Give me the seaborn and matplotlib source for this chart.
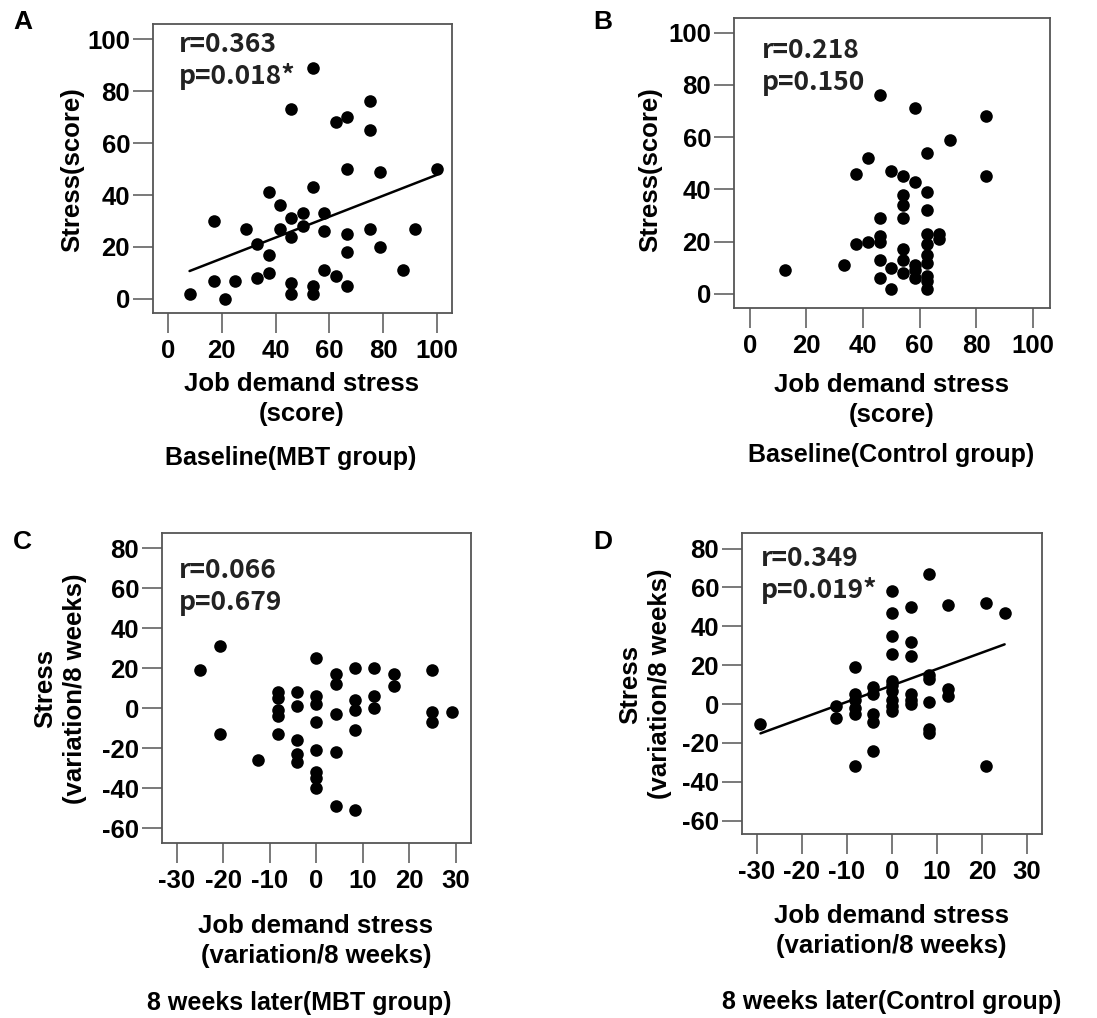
import numpy as np
import pandas as pd
import matplotlib
matplotlib.use("Agg")
import matplotlib.pyplot as plt
import seaborn as sns

# ==============================
# DATA
# ==============================

# A: Baseline, MBT group
a_job = [8, 17, 17, 21, 25, 29, 33, 33, 37.5, 37.5, 37.5, 41.7, 41.7,
         45.8, 45.8, 45.8, 45.8, 45.8, 50, 50, 54, 54, 54, 54, 58, 58, 58,
         62.5, 62.5, 66.7, 66.7, 66.7, 66.7, 66.7, 75, 75, 75, 79, 79,
         87.5, 91.7, 100]
a_stress = [2, 30, 7, 0, 7, 27, 21, 8, 41, 17, 10, 36, 27,
            73, 31, 24, 6, 2, 33, 28, 89, 43, 5, 2, 33, 26, 11,
            68, 9, 70, 50, 25, 18, 5, 76, 65, 27, 49, 20,
            11, 27, 50]

# B: Baseline, Control group
b_job = [12.5, 33.3, 37.5, 37.5, 41.7, 41.7,
         45.8, 45.8, 45.8, 45.8, 45.8, 45.8, 50, 50, 50,
         54.2, 54.2, 54.2, 54.2, 54.2, 54.2, 54.2,
         58.3, 58.3, 58.3, 58.3, 58.3,
         62.5, 62.5, 62.5, 62.5, 62.5, 62.5, 62.5, 62.5, 62.5, 62.5,
         66.7, 66.7, 70.8, 83.3, 83.3]
b_stress = [9, 11, 46, 19, 52, 20,
            76, 29, 22, 20, 13, 6, 47, 10, 2,
            45, 38, 34, 29, 17, 13, 8,
            71, 43, 11, 9, 6,
            54, 39, 32, 23, 19, 15, 12, 7, 5, 2,
            23, 21, 59, 68, 45]

# C: 8 weeks later, MBT group
c_job = [-25, -20.8, -20.8, -12.5, -8.3, -8.3, -8.3, -8.3, -8.3,
         -4.2, -4.2, -4.2, -4.2, -4.2, 0, 0, 0, 0, 0, 0, 0, 0,
         4.2, 4.2, 4.2, 4.2, 4.2, 8.3, 8.3, 8.3, 8.3, 8.3,
         12.5, 12.5, 12.5, 16.7, 16.7, 25, 25, 25, 29.2]
c_stress = [19, 31, -13, -26, 8, 5, -1, -4, -13,
            8, 1, -16, -23, -27, 25, 6, 2, -7, -21, -32, -35, -40,
            17, 12, -3, -22, -49, 20, 4, -1, -11, -51,
            20, 6, 0, 17, 11, 19, -2, -7, -2]

# D: 8 weeks later, Control group
d_job = [-29.2, -12.5, -12.5, -8.3, -8.3, -8.3, -8.3, -8.3, -8.3,
         -4.2, -4.2, -4.2, -4.2, -4.2, 0, 0, 0, 0, 0, 0, 0, 0, 0, 0,
         4.2, 4.2, 4.2, 4.2, 4.2, 4.2, 8.3, 8.3, 8.3, 8.3, 8.3, 8.3,
         12.5, 12.5, 12.5, 20.8, 20.8, 25]
d_stress = [-10, -1, -7, 19, 5, 2, -2, -5, -32,
            9, 5, -5, -9, -24, 58, 47, 35, 26, 12, 10, 7, 2, -1, -3.5,
            50, 32, 25, 5, 2, 0, 67, 15, 13, 1, -13, -15,
            51, 8, 4, 52, -32, 47]

stats = {
    "A": ("r=0.363", "p=0.018*"),
    "B": ("r=0.218", "p=0.150"),
    "C": ("r=0.066", "p=0.679"),
    "D": ("r=0.349", "p=0.019*"),
}

score_ticks = [0, 20, 40, 60, 80, 100]
var_xticks = [-30, -20, -10, 0, 10, 20, 30]
var_yticks = [-60, -40, -20, 0, 20, 40, 60, 80]

# ==============================
# STYLE
# ==============================
sns.set_theme(style="white")
plt.rcParams["font.family"] = ["Liberation Sans", "DejaVu Sans"]
plt.rcParams["font.weight"] = "bold"
plt.rcParams["text.color"] = "black"
plt.rcParams["axes.unicode_minus"] = False

W, H = 1097, 1018
fig = plt.figure(figsize=(W / 100, H / 100), dpi=100)


def px_axes(l, r, t, b):
    """Axes from pixel box (left, right, top, bottom)."""
    return fig.add_axes([l / W, 1 - b / H, (r - l) / W, (b - t) / H])


def px(x, y):
    return x / W, 1 - y / H


def style_axes(ax, xlim, ylim, xticks, yticks):
    ax.set_xlim(*xlim)
    ax.set_ylim(*ylim)
    ax.set_xticks(xticks)
    ax.set_yticks(yticks)
    for sp in ax.spines.values():
        sp.set_color("#555555")
        sp.set_linewidth(1.3)
    ax.tick_params(axis="both", direction="out", length=14.5, width=1.1,
                   color="#555555", labelsize=18.5, labelcolor="black",
                   bottom=True, left=True)
    ax.tick_params(axis="x", pad=4)
    ax.tick_params(axis="y", pad=2)
    for lab in ax.get_xticklabels() + ax.get_yticklabels():
        lab.set_fontweight("bold")


def draw_panel(letter, job, stress, box, xlim, ylim, xticks, yticks,
               fit, xlabel, ylabel, ylab_xy, xlab_xy, sub, sub_xy,
               stat_xy, letter_xy):
    ax = px_axes(*box)
    df = pd.DataFrame({"job": job, "stress": stress})
    sns.scatterplot(data=df, x="job", y="stress", ax=ax, color="black",
                    s=82, edgecolor="black", linewidth=0, zorder=3)
    if fit:
        sns.regplot(data=df, x="job", y="stress", ax=ax, scatter=False,
                    ci=None, color="black", line_kws={"linewidth": 1.8})
    style_axes(ax, xlim, ylim, xticks, yticks)
    ax.set_xlabel("")
    ax.set_ylabel("")

    # axis titles placed at the reference pixel positions
    fig.text(*px(*xlab_xy), xlabel, ha="center", va="center", fontsize=18.5,
             fontweight="bold", linespacing=1.3)
    fig.text(*px(*ylab_xy), ylabel, ha="center", va="center", fontsize=18.5,
             fontweight="bold", rotation=90, linespacing=1.3)
    fig.text(*px(*sub_xy), sub, ha="center", va="center", fontsize=18,
             fontweight="bold")

    r_txt, p_txt = stats[letter]
    sx, sy = stat_xy
    for i, t in enumerate([r_txt, p_txt]):
        fig.text(*px(sx, sy + i * 32), t, ha="left", va="center",
                 fontsize=19, fontweight="bold", color="#222222",
                 family=["Noto Sans CJK KR", "DejaVu Sans"])
    fig.text(*px(*letter_xy), letter, ha="left", va="center", fontsize=19,
             fontweight="bold")
    return ax


draw_panel("A", a_job, a_stress, (153, 452, 24, 313),
           (-5.6, 105.6), (-5.4, 105.8), score_ticks, score_ticks, True,
           "Job demand stress\n(score)", "Stress(score)",
           (72, 170), (302, 399), "Baseline(MBT group)", (291, 458),
           (179, 45), (13, 22))

draw_panel("B", b_job, b_stress, (734, 1050, 18, 308),
           (-5.6, 106), (-5.4, 105.6), score_ticks, score_ticks, False,
           "Job demand stress\n(score)", "Stress(score)",
           (650, 170), (892, 400), "Baseline(Control group)", (891, 455),
           (762, 50), (593, 22))

draw_panel("C", c_job, c_stress, (162, 471, 533, 843),
           (-33.2, 33.3), (-67.5, 87.5), var_xticks, var_yticks, False,
           "Job demand stress\n(variation/8 weeks)",
           "Stress\n(variation/8 weeks)",
           (60, 689), (316, 941), "8 weeks later(MBT group)", (299, 1003),
           (179, 570), (13, 542))

draw_panel("D", d_job, d_stress, (742, 1042, 533, 834),
           (-33.3, 33.3), (-66.8, 88), var_xticks, var_yticks, True,
           "Job demand stress\n(variation/8 weeks)",
           "Stress\n(variation/8 weeks)",
           (645, 684), (891, 931), "8 weeks later(Control group)", (892, 1002),
           (761, 558), (593, 542))

fig.savefig("out.png", dpi=100)
